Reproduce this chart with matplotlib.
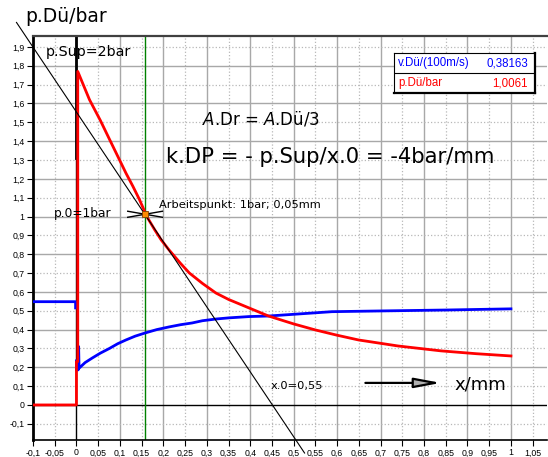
import numpy as np
import matplotlib
matplotlib.use("Agg")
import matplotlib.pyplot as plt

# pressure at the nozzle (red) and velocity (blue)
p_x = [-0.1, 0.0, 0.0, 0.003, 0.003, 0.03, 0.055, 0.076, 0.095, 0.114, 0.13,
       0.145, 0.162, 0.18, 0.195, 0.213, 0.24, 0.26, 0.29, 0.321, 0.35, 0.397,
       0.442, 0.5, 0.55, 0.6, 0.649, 0.74, 0.839, 0.92, 1.0]
p_y = [0.0, 0.0, 0.23, 0.23, 1.77, 1.62, 1.51, 1.41, 1.32, 1.23, 1.16,
       1.09, 1.0, 0.93, 0.876, 0.823, 0.75, 0.70, 0.645, 0.594, 0.56, 0.515,
       0.472, 0.43, 0.398, 0.37, 0.345, 0.313, 0.287, 0.272, 0.26]

v_x = [-0.1, -0.002, -0.002, np.nan, 0.0, 0.0, 0.004, 0.005, 0.006, 0.02,
       0.037, 0.055, 0.076, 0.095, 0.114, 0.135, 0.158, 0.185, 0.213, 0.24,
       0.266, 0.29, 0.321, 0.35, 0.397, 0.442, 0.512, 0.588, 0.703, 0.855, 1.0]
v_y = [0.548, 0.548, 0.515, np.nan, 0.234, 0.186, 0.186, 0.31, 0.195, 0.225,
       0.25, 0.275, 0.30, 0.325, 0.345, 0.365, 0.382, 0.40, 0.414, 0.426,
       0.435, 0.447, 0.456, 0.462, 0.469, 0.472, 0.483, 0.495, 0.499, 0.504,
       0.51]

# characteristic line k.DP and operating point
k_x = [-0.138, 0.525]
k_y = [2.03, -0.255]
op_x, op_y = 0.157, 1.012
x_green = 0.158

x_ticks = np.round(np.arange(-0.1, 1.051, 0.05), 2)
y_ticks = np.round(np.arange(-0.1, 1.91, 0.1), 2)

legend_rows = [("v.Dü/(100m/s)", "0,38163", "#0000ff"),
               ("p.Dü/bar", "1,0061", "#ff0000")]


def comma(v):
    s = f"{v:g}"
    return s.replace(".", ",")


fig = plt.figure(figsize=(5.48, 4.57), dpi=100)
ax = fig.add_axes([33 / 548, 17 / 457, 514 / 548, 404 / 457])
ax.set_xlim(-0.1, 1.083)
ax.set_ylim(-0.186, 1.958)

# grid: solid every 0.1 / 0.2, dotted in between
for x in x_ticks:
    if abs(x) < 1e-9 or x < -0.099:
        continue
    solid = abs(round(x * 20)) % 2 == 0
    ax.axvline(x, color="#a8a8a8" if solid else "#b8b8b8",
               lw=1.0 if solid else 0.9, ls="-" if solid else ":", zorder=0)
for y in y_ticks:
    if abs(y) < 1e-9:
        continue
    solid = abs(round(y * 10)) % 2 == 0
    ax.axhline(y, color="#a8a8a8" if solid else "#b8b8b8",
               lw=1.0 if solid else 0.9, ls="-" if solid else ":", zorder=0)
ax.axhline(0, color="black", lw=1, zorder=1)
ax.axvline(0, color="black", lw=1, zorder=1)
ax.plot([0, 0], [1.31, 1.958], color="black", lw=2, zorder=1)
ax.axvline(x_green, color="#008000", lw=1, zorder=1)

ax.plot(v_x, v_y, color="#0000ff", lw=2, zorder=3)
ax.plot(p_x, p_y, color="#ff0000", lw=2, zorder=3)
ax.plot(k_x, k_y, color="black", lw=0.8, clip_on=False, zorder=4)

# operating point marker
ax.plot([0.118, 0.198], [1.028, 0.996], color="black", lw=1, zorder=5)
ax.plot([0.118, 0.198], [0.996, 1.028], color="black", lw=1, zorder=5)
ax.plot([op_x], [op_y], marker="s", ms=4, mfc="#ff8c00", mec="#804000",
        mew=0.6, zorder=6)

ax.set_xticks(x_ticks)
ax.set_xticklabels([comma(v) for v in x_ticks], family="Liberation Sans",
                   fontsize=6.3)
ax.set_yticks(y_ticks)
ax.set_yticklabels([comma(v) for v in y_ticks], family="Liberation Sans",
                   fontsize=6.3)
ax.tick_params(axis="both", direction="out", length=4, width=0.8, pad=2)

ax.spines["right"].set_visible(False)
ax.spines["left"].set_linewidth(2)
ax.spines["top"].set_linewidth(1.6)
ax.spines["top"].set_color("#404040")
ax.spines["bottom"].set_linewidth(1.2)

# annotations
ax.text(-0.070, 1.874, "p.Sup=2bar", fontsize=10.3, va="center")
ax.text(0.289, 1.518, r"$\it{A}$.Dr = $\it{A}$.Dü/3", fontsize=12, va="center")
ax.text(0.205, 1.316, "k.DP = - p.Sup/x.0 = -4bar/mm", fontsize=15.2,
        va="center")
ax.text(0.189, 1.062, "Arbeitspunkt: 1bar; 0,05mm", fontsize=8.2, va="center")
ax.text(-0.052, 1.014, "p.0=1bar", fontsize=8.8, va="center")
ax.text(0.447, 0.10, "x.0=0,55", fontsize=8.2, va="center")
ax.text(0.871, 0.11, "x/mm", fontsize=13, va="center")
ax.annotate("", xy=(0.839, 0.117), xytext=(0.665, 0.117),
            arrowprops=dict(arrowstyle="-|>,head_length=1.6,head_width=0.3",
                            fc="#b0b0b0", ec="black", lw=1.6,
                            shrinkA=0, shrinkB=0))
fig.text(25 / 548, 1 - 17 / 457, "p.Dü/bar", fontsize=13.5, va="center")

# value box in the upper right
lg = fig.add_axes([394 / 548, 1 - 93 / 457, 141 / 548, 40 / 457])
lg.set_xlim(0, 1)
lg.set_ylim(0, 2)
lg.set_xticks([])
lg.set_yticks([])
for side in ["left", "top"]:
    lg.spines[side].set_linewidth(0.8)
for side in ["right", "bottom"]:
    lg.spines[side].set_linewidth(1.6)
lg.axhline(1, color="black", lw=0.8)
for i, (name, val, col) in enumerate(legend_rows):
    yy = 1.5 - i
    lg.text(0.03, yy, name, color=col, fontsize=8.3, va="center",
            family="Liberation Sans")
    lg.text(0.95, yy, val, color=col, fontsize=8.3, va="center", ha="right",
            family="Liberation Sans")

fig.savefig("out.png", dpi=100)
